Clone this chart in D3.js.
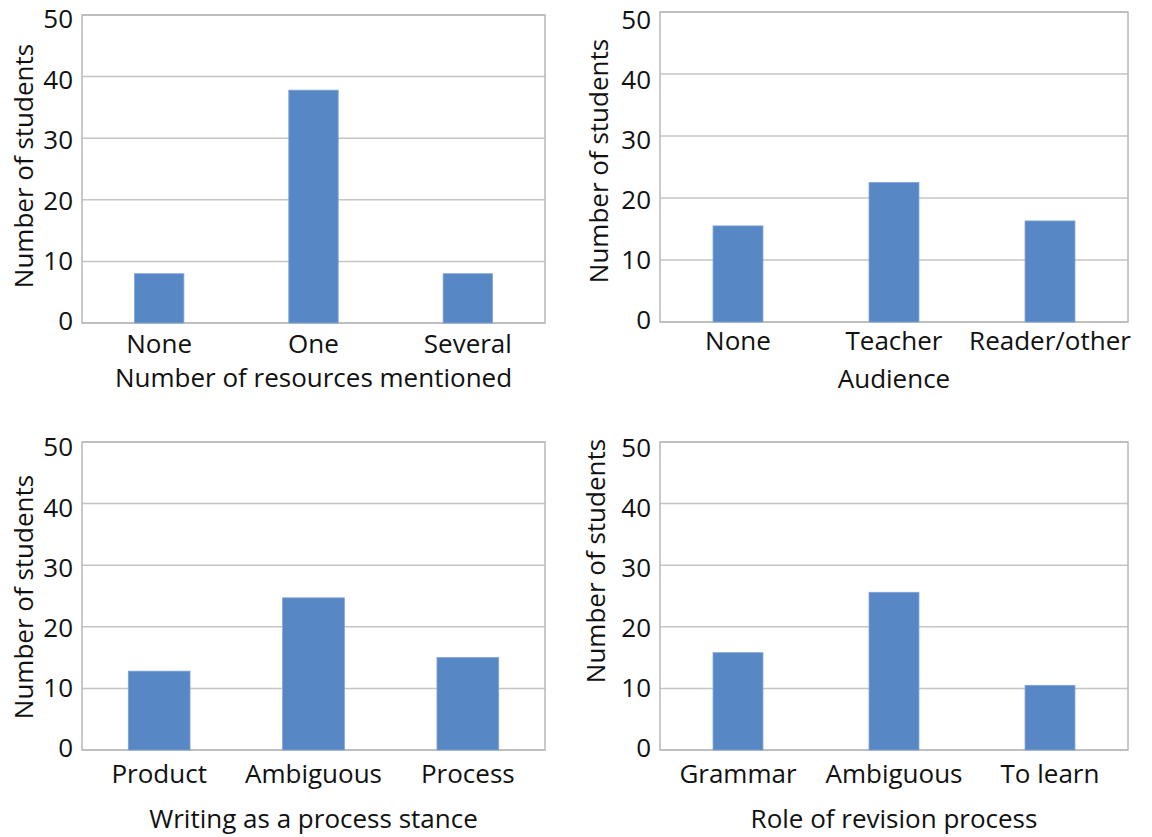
<!DOCTYPE html>
<html>
<head>
<meta charset="utf-8">
<script src="https://cdn.jsdelivr.net/npm/d3@7"></script>
<style>
  html, body { margin: 0; padding: 0; background: #fff; }
  svg { display: block; font-family: "Open Sans", Lato, sans-serif; }
</style>
</head>
<body>
<svg id="chart" width="1152" height="837"></svg>
<script>
// ---- Data -------------------------------------------------------------------
const resourceCats = ["None", "One", "Several"];
const resourceVals = [8, 37.8, 8];

const audienceCats = ["None", "Teacher", "Reader/other"];
const audienceVals = [15.5, 22.5, 16.3];

const stanceCats = ["Product", "Ambiguous", "Process"];
const stanceVals = [12.8, 24.7, 15];

const revisionCats = ["Grammar", "Ambiguous", "To learn"];
const revisionVals = [15.8, 25.6, 10.5];

const yTicks = [0, 10, 20, 30, 40, 50];
const yTitle = "Number of students";

// ---- Layout -----------------------------------------------------------------
const panels = [
  { cats: resourceCats, vals: resourceVals, title: "Number of resources mentioned",
    left: 82, right: 545, top: 15, bottom: 323, barFrac: 0.32,
    labelY: 353, titleY: 387, yTitleX: 33, yTitleY: 166, tickShift: 4 },
  { cats: audienceCats, vals: audienceVals, title: "Audience",
    left: 660, right: 1128, top: 12, bottom: 322, barFrac: 0.32,
    labelY: 350, titleY: 388, yTitleX: 608, yTitleY: 161, tickShift: 8 },
  { cats: stanceCats, vals: stanceVals, title: "Writing as a process stance",
    left: 82, right: 545, top: 442, bottom: 750, barFrac: 0.40,
    labelY: 783, titleY: 828, yTitleX: 33, yTitleY: 597, tickShift: 5 },
  { cats: revisionCats, vals: revisionVals, title: "Role of revision process",
    left: 660, right: 1128, top: 442, bottom: 750, barFrac: 0.32,
    labelY: 783, titleY: 828, yTitleX: 605, yTitleY: 561, tickShift: 6 }
];

const svg = d3.select("#chart");
const barColor = "#5887c6";
const gridColor = "#c4c4c4";

panels.forEach(p => {
  const g = svg.append("g");
  const pad = 1 - p.barFrac;
  const x = d3.scaleBand().domain(p.cats).range([p.left, p.right])
    .paddingInner(pad).paddingOuter(pad / 2);
  const y = d3.scaleLinear().domain([0, 50]).range([p.bottom, p.top]);
  // tick labels sit on a slightly tighter scale than the gridlines
  const yLab = d3.scaleLinear().domain([0, 50]).range([p.bottom - 2, p.top + p.tickShift]);

  // gridlines
  g.append("g").selectAll("line").data(yTicks).join("line")
    .attr("x1", p.left).attr("x2", p.right)
    .attr("y1", d => y(d)).attr("y2", d => y(d))
    .attr("stroke", gridColor).attr("stroke-width", 1.5);

  // frame
  g.append("rect")
    .attr("x", p.left).attr("y", p.top)
    .attr("width", p.right - p.left).attr("height", p.bottom - p.top)
    .attr("fill", "none").attr("stroke", "#b8b8b8").attr("stroke-width", 1.5);

  // bars
  g.append("g").selectAll("rect").data(p.vals).join("rect")
    .attr("x", (d, i) => x(p.cats[i]))
    .attr("y", d => y(d))
    .attr("width", x.bandwidth())
    .attr("height", d => y(0) - y(d))
    .attr("fill", barColor)
    .attr("stroke", "#7ea3d6").attr("stroke-width", 0.8);

  // y tick labels
  g.append("g").selectAll("text").data(yTicks).join("text")
    .attr("x", p.left - 9).attr("y", d => yLab(d)).attr("dy", "0.36em")
    .attr("text-anchor", "end").attr("font-size", 26).attr("fill", "#111")
    .text(d => d);

  // category labels
  g.append("g").selectAll("text").data(p.cats).join("text")
    .attr("x", d => x(d) + x.bandwidth() / 2).attr("y", p.labelY)
    .attr("text-anchor", "middle").attr("font-size", 26).attr("fill", "#111")
    .text(d => d);

  // axis titles
  g.append("text")
    .attr("x", (p.left + p.right) / 2).attr("y", p.titleY)
    .attr("text-anchor", "middle").attr("font-size", 26).attr("fill", "#111")
    .text(p.title);

  g.append("text")
    .attr("transform", `translate(${p.yTitleX},${p.yTitleY}) rotate(-90)`)
    .attr("text-anchor", "middle").attr("font-size", 26).attr("fill", "#111")
    .text(yTitle);
});
</script>
</body>
</html>
